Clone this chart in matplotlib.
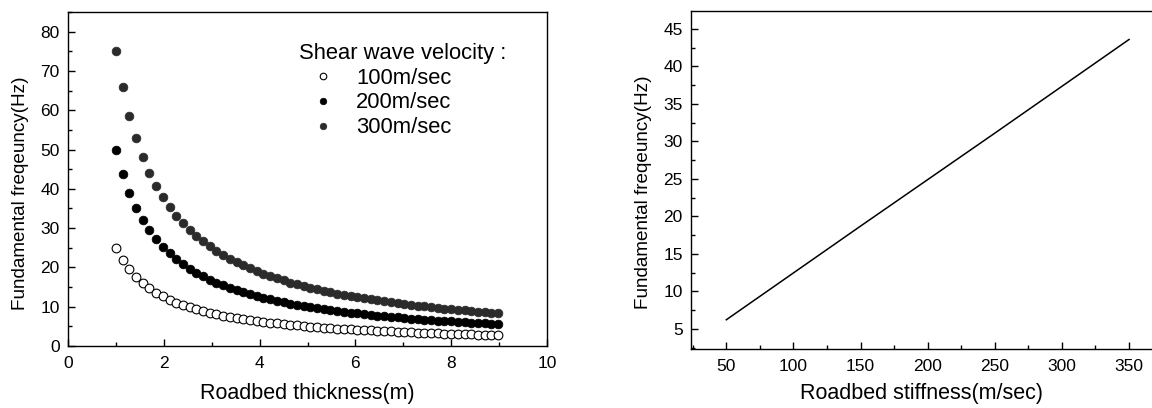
import matplotlib
matplotlib.use("Agg")
import matplotlib.pyplot as plt
from matplotlib.ticker import MultipleLocator

plt.rcParams['font.family'] = ['Liberation Sans', 'DejaVu Sans']

# ---------------- data: left panel ----------------
thickness = [1.00, 1.14, 1.28, 1.42, 1.56, 1.70, 1.84, 1.98, 2.12, 2.26,
             2.40, 2.54, 2.68, 2.82, 2.96, 3.10, 3.24, 3.38, 3.52, 3.66,
             3.80, 3.94, 4.08, 4.22, 4.36, 4.50, 4.64, 4.78, 4.92, 5.06,
             5.20, 5.34, 5.48, 5.62, 5.76, 5.90, 6.04, 6.18, 6.32, 6.46,
             6.60, 6.74, 6.88, 7.02, 7.16, 7.30, 7.44, 7.58, 7.72, 7.86,
             8.00, 8.14, 8.28, 8.42, 8.56, 8.70, 8.84, 8.98]
freq_100 = [25.00, 21.93, 19.53, 17.61, 16.03, 14.71, 13.59, 12.63, 11.79, 11.06,
            10.42, 9.84, 9.33, 8.87, 8.45, 8.06, 7.72, 7.40, 7.10, 6.83,
            6.58, 6.35, 6.13, 5.92, 5.73, 5.56, 5.39, 5.23, 5.08, 4.94,
            4.81, 4.68, 4.56, 4.45, 4.34, 4.24, 4.14, 4.05, 3.96, 3.87,
            3.79, 3.71, 3.63, 3.56, 3.49, 3.42, 3.36, 3.30, 3.24, 3.18,
            3.13, 3.07, 3.02, 2.97, 2.92, 2.87, 2.83, 2.78]
freq_200 = [50.00, 43.86, 39.06, 35.21, 32.05, 29.41, 27.17, 25.25, 23.58, 22.12,
            20.83, 19.69, 18.66, 17.73, 16.89, 16.13, 15.43, 14.79, 14.20, 13.66,
            13.16, 12.69, 12.25, 11.85, 11.47, 11.11, 10.78, 10.46, 10.16, 9.88,
            9.62, 9.36, 9.12, 8.90, 8.68, 8.47, 8.28, 8.09, 7.91, 7.74,
            7.58, 7.42, 7.27, 7.12, 6.98, 6.85, 6.72, 6.60, 6.48, 6.36,
            6.25, 6.14, 6.04, 5.94, 5.84, 5.75, 5.66, 5.57]
freq_300 = [75.00, 65.79, 58.59, 52.82, 48.08, 44.12, 40.76, 37.88, 35.38, 33.19,
            31.25, 29.53, 27.99, 26.60, 25.34, 24.19, 23.15, 22.19, 21.31, 20.49,
            19.74, 19.04, 18.38, 17.77, 17.20, 16.67, 16.16, 15.69, 15.24, 14.82,
            14.42, 14.04, 13.69, 13.35, 13.02, 12.71, 12.42, 12.14, 11.87, 11.61,
            11.36, 11.13, 10.90, 10.68, 10.47, 10.27, 10.08, 9.89, 9.72, 9.54,
            9.38, 9.21, 9.06, 8.91, 8.76, 8.62, 8.48, 8.35]
series_labels = ['100m/sec', '200m/sec', '300m/sec']
legend_title = 'Shear wave velocity :'

# ---------------- data: right panel ----------------
stiffness = [50, 100, 150, 200, 250, 300, 350]
freq_stiff = [6.2, 12.45, 18.7, 24.9, 31.1, 37.35, 43.6]

W, H = 1152, 408
fig = plt.figure(figsize=(W / 100, H / 100), dpi=100)

def px_axes(x0, y0, x1, y1):
    return fig.add_axes([x0 / W, 1 - y1 / H, (x1 - x0) / W, (y1 - y0) / H])

TICK_FS = 12.5
XLABEL_FS = 15.5
YLABEL_FS = 13.6
LEG_FS = 15.8

# ---------- left panel ----------
ax1 = px_axes(68, 12, 547, 346)
ax1.plot(thickness, freq_100, 'o', ms=6.3, mfc='white', mec='black', mew=0.8,
         label=series_labels[0], zorder=3)
ax1.plot(thickness, freq_200, 'o', ms=6.3, mfc='black', mec='black', mew=0.5,
         label=series_labels[1], zorder=3)
ax1.plot(thickness, freq_300, 'o', ms=6.3, mfc='#2b2b2b', mec='#2b2b2b', mew=0.5,
         label=series_labels[2], zorder=3)
ax1.set_xlim(0, 10)
ax1.set_ylim(0, 85)
ax1.xaxis.set_major_locator(MultipleLocator(2))
ax1.xaxis.set_minor_locator(MultipleLocator(1))
ax1.yaxis.set_major_locator(MultipleLocator(10))
ax1.yaxis.set_minor_locator(MultipleLocator(5))
ax1.set_xlabel('Roadbed thickness(m)', fontsize=XLABEL_FS)
ax1.set_ylabel('Fundamental freqeuncy(Hz)', fontsize=YLABEL_FS)
ax1.xaxis.set_label_coords(0.5, -0.112)
ax1.yaxis.set_label_coords(-0.081, 0.457)
leg = ax1.legend(title=legend_title, loc='upper left',
                 bbox_to_anchor=(299 / W, 1 - 43 / H), bbox_transform=fig.transFigure,
                 frameon=False, fontsize=LEG_FS, title_fontsize=LEG_FS,
                 alignment='left', handlelength=2.2, handletextpad=0.4,
                 labelspacing=0.17, borderpad=0, borderaxespad=0, markerscale=0.75)

# ---------- right panel ----------
ax2 = px_axes(691, 11, 1152, 349)
ax2.plot(stiffness, freq_stiff, '-', color='black', lw=1.1)
ax2.set_xlim(23.7, 367.1)
ax2.set_ylim(2.3, 47.4)
ax2.xaxis.set_major_locator(MultipleLocator(50))
ax2.xaxis.set_minor_locator(MultipleLocator(25))
ax2.yaxis.set_major_locator(MultipleLocator(5))
ax2.yaxis.set_minor_locator(MultipleLocator(2.5))
ax2.set_xlabel('Roadbed stiffness(m/sec)', fontsize=XLABEL_FS)
ax2.set_ylabel('Fundamental freqeuncy(Hz)', fontsize=YLABEL_FS)
ax2.xaxis.set_label_coords(0.5, -0.10)
ax2.yaxis.set_label_coords(-0.085, 0.463)
ax2.spines['right'].set_visible(False)

for ax in (ax1, ax2):
    for s in ax.spines.values():
        s.set_linewidth(1.0)
    ax.tick_params(which='both', direction='in', top=False, right=False,
                   labelsize=TICK_FS, width=1.0)
    ax.tick_params(which='major', length=5)
    ax.tick_params(which='minor', length=3)
    ax.tick_params(axis='x', which='major', pad=7)
    ax.tick_params(axis='y', which='major', pad=6)

fig.savefig('out.png', dpi=100)
